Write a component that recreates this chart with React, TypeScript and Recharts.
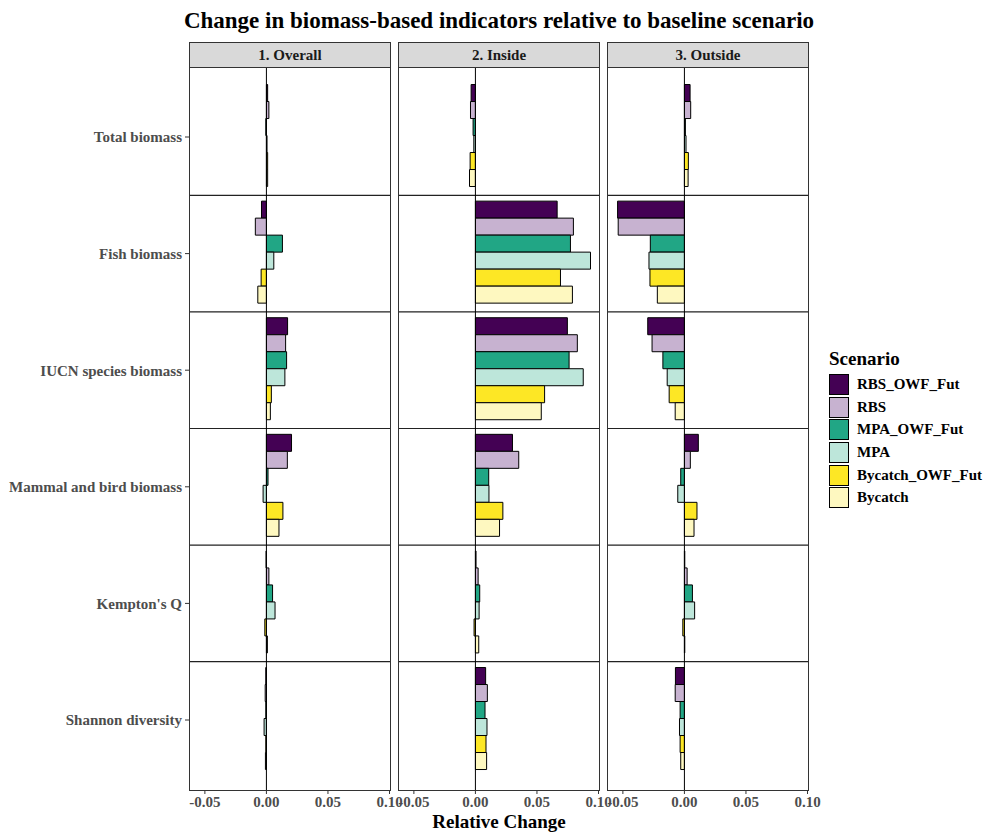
import React from 'react';
import { BarChart, Bar, XAxis, YAxis, ReferenceLine } from 'recharts';

const categories = [
  'Total biomass',
  'Fish biomass',
  'IUCN species biomass',
  'Mammal and bird biomass',
  "Kempton's Q",
  'Shannon diversity',
];
const scenarios = ['RBS_OWF_Fut', 'RBS', 'MPA_OWF_Fut', 'MPA', 'Bycatch_OWF_Fut', 'Bycatch'];
const scenarioColors = ['#440154', '#c7b2d0', '#21a685', '#bde6da', '#fde725', '#fef8c0'];
const facetTitles = ['1. Overall', '2. Inside', '3. Outside'];
const xTicks = [-0.05, 0, 0.05, 0.1];

// values per scenario, in category order
const overallRbsOwfFut = [0.001, -0.004, 0.0172, 0.0204, -0.0003, -0.0005];
const overallRbs = [0.002, -0.009, 0.0156, 0.017, 0.002, -0.001];
const overallMpaOwfFut = [-0.0005, 0.013, 0.0164, 0.0013, 0.005, -0.0005];
const overallMpa = [0.0005, 0.006, 0.015, -0.0027, 0.007, -0.0019];
const overallBycatchOwfFut = [0.001, -0.0043, 0.004, 0.0134, -0.0013, -0.0005];
const overallBycatch = [0.001, -0.007, 0.0032, 0.0102, 0.0008, -0.0008];

const insideRbsOwfFut = [-0.0035, 0.0664, 0.0747, 0.0301, 0.0005, 0.0083];
const insideRbs = [-0.004, 0.0796, 0.0828, 0.0352, 0.0022, 0.0097];
const insideMpaOwfFut = [-0.0019, 0.0772, 0.0761, 0.0108, 0.0035, 0.0078];
const insideMpa = [-0.0013, 0.0935, 0.0876, 0.011, 0.003, 0.0094];
const insideBycatchOwfFut = [-0.0043, 0.0691, 0.0562, 0.0223, -0.0011, 0.0086];
const insideBycatch = [-0.0048, 0.0788, 0.0535, 0.0196, 0.0027, 0.0091];

const outsideRbsOwfFut = [0.0046, -0.0543, -0.0298, 0.0113, 0.0003, -0.0073];
const outsideRbs = [0.0051, -0.0538, -0.0263, 0.0048, 0.0022, -0.0075];
const outsideMpaOwfFut = [0.0008, -0.0277, -0.0175, -0.003, 0.0065, -0.0035];
const outsideMpa = [0.0013, -0.0288, -0.014, -0.0054, 0.0083, -0.004];
const outsideBycatchOwfFut = [0.0032, -0.028, -0.0124, 0.0102, -0.0013, -0.0035];
const outsideBycatch = [0.003, -0.022, -0.0075, 0.0078, 0.0003, -0.003];

const facetSeries = [
  [overallRbsOwfFut, overallRbs, overallMpaOwfFut, overallMpa, overallBycatchOwfFut, overallBycatch],
  [insideRbsOwfFut, insideRbs, insideMpaOwfFut, insideMpa, insideBycatchOwfFut, insideBycatch],
  [outsideRbsOwfFut, outsideRbs, outsideMpaOwfFut, outsideMpa, outsideBycatchOwfFut, outsideBycatch],
];

const buildRows = (series: number[][]) =>
  categories.map((category, i) => {
    const row: Record<string, string | number> = { category };
    scenarios.forEach((s, j) => {
      row[s] = series[j][i];
    });
    return row;
  });

const FONT = '"Liberation Serif", "Times New Roman", serif';
const PLOT_TOP = 67;
const PLOT_BOTTOM = 790;
const PLOT_W = 201;
const panelLefts = [189, 398, 607];
const PAD = 22;

const Facet = ({ index }: { index: number }) => {
  const first = index === 0;
  const rows = buildRows(facetSeries[index]);
  const left = panelLefts[index];
  const chartLeft = first ? 0 : left - PAD;
  const marginLeft = first ? 0 : PAD;
  const width = first ? left + PLOT_W + PAD : PLOT_W + 2 * PAD;
  const height = PLOT_BOTTOM + 35;
  const tickStyle = { fontFamily: FONT, fontSize: 15, fontWeight: 'bold' as const, fill: '#4d4d4d' };

  return (
    <div style={{ position: 'absolute', left: chartLeft, top: 0 }}>
      <BarChart
        width={width}
        height={height}
        data={rows}
        layout="vertical"
        margin={{ top: PLOT_TOP, right: PAD, bottom: 0, left: marginLeft }}
        barCategoryGap="5%"
        barGap={0}
      >
        <XAxis
          type="number"
          domain={[-0.0629, 0.1004]}
          ticks={xTicks}
          interval={0}
          allowDataOverflow
          axisLine={false}
          tickSize={4}
          tickLine={{ stroke: '#333' }}
          tick={tickStyle}
          height={35}
          tickFormatter={(v: number) => v.toFixed(2)}
        />
        <YAxis
          type="category"
          dataKey="category"
          hide={!first}
          width={189}
          padding={{ top: 11.7, bottom: 11.7 }}
          axisLine={false}
          tickSize={4}
          tickMargin={3}
          tickLine={{ stroke: '#333' }}
          tick={tickStyle}
        />
        {categories.slice(1).map((c) => (
          <ReferenceLine key={c} y={c} position="start" stroke="#222" strokeWidth={1.2} />
        ))}
        {scenarios.map((s, j) => (
          <Bar
            key={s}
            dataKey={s}
            fill={scenarioColors[j]}
            stroke="#000"
            strokeWidth={1}
            isAnimationActive={false}
          />
        ))}
        <ReferenceLine x={0} stroke="#000" strokeWidth={1} />
      </BarChart>
      <div
        style={{
          position: 'absolute',
          left: left - chartLeft,
          top: PLOT_TOP,
          width: PLOT_W + 1,
          height: PLOT_BOTTOM - PLOT_TOP + 1,
          border: '1px solid #333',
          boxSizing: 'border-box',
          pointerEvents: 'none',
        }}
      />
      <div
        style={{
          position: 'absolute',
          left: left - chartLeft,
          top: 42,
          width: PLOT_W + 1,
          height: 26,
          background: '#d9d9d9',
          border: '1px solid #333',
          boxSizing: 'border-box',
          textAlign: 'center',
          lineHeight: '24px',
          fontFamily: FONT,
          fontWeight: 'bold',
          fontSize: 15,
          color: '#1a1a1a',
        }}
      >
        {facetTitles[index]}
      </div>
    </div>
  );
};

const App = () => (
  <div
    style={{
      position: 'absolute',
      left: 0,
      top: 0,
      width: 986,
      height: 833,
      background: '#fff',
      fontFamily: FONT,
    }}
  >
    <div
      style={{
        position: 'absolute',
        left: 0,
        top: 6,
        width: 998,
        textAlign: 'center',
        fontSize: 23,
        fontWeight: 'bold',
        lineHeight: '30px',
        color: '#000',
      }}
    >
      Change in biomass-based indicators relative to baseline scenario
    </div>
    {facetTitles.map((t, i) => (
      <Facet key={t} index={i} />
    ))}
    <div
      style={{
        position: 'absolute',
        left: 189,
        top: 810,
        width: 620,
        textAlign: 'center',
        fontSize: 19,
        fontWeight: 'bold',
        lineHeight: '24px',
        color: '#000',
      }}
    >
      Relative Change
    </div>
    <div style={{ position: 'absolute', left: 829, top: 345 }}>
      <div style={{ fontSize: 19, fontWeight: 'bold', lineHeight: '28px', color: '#000' }}>Scenario</div>
      {scenarios.map((s, j) => (
        <div key={s} style={{ display: 'flex', alignItems: 'center', height: 22.7 }}>
          <div
            style={{
              width: 20,
              height: 21,
              background: scenarioColors[j],
              border: '1px solid #000',
              boxSizing: 'border-box',
            }}
          />
          <span style={{ marginLeft: 8, fontSize: 15, fontWeight: 'bold', color: '#000' }}>{s}</span>
        </div>
      ))}
    </div>
  </div>
);

export default App;
